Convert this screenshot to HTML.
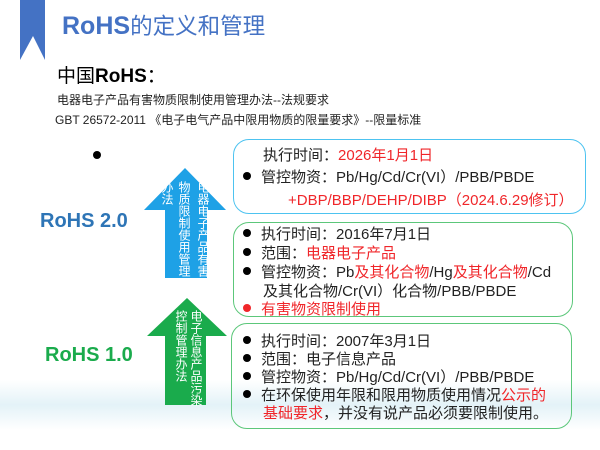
<!DOCTYPE html>
<html><head><meta charset="utf-8"><style>
body{margin:0;width:600px;height:450px;position:relative;overflow:hidden;background:#fff;font-family:"Liberation Sans","Noto Sans CJK SC",sans-serif;}
.a{position:absolute;white-space:nowrap;}
.box{position:absolute;border:1.5px solid;border-radius:16px;box-sizing:border-box;}
.t{font-size:15px;color:#222;position:absolute;white-space:nowrap;}
.r{color:#f0262a;}
.d{display:inline-block;width:8px;height:8px;border-radius:50%;background:#000;margin-right:10px;vertical-align:2px;}
.v{position:absolute;writing-mode:vertical-rl;color:#fff;font-size:12px;line-height:13px;letter-spacing:0;font-family:"Noto Sans CJK SC",sans-serif;}
</style></head><body>
<div class="a" style="left:0;top:380px;width:600px;height:50px;background:linear-gradient(180deg,rgba(255,255,255,0),rgba(200,230,240,.5),rgba(255,255,255,0));"></div>
<svg class="a" style="left:0;top:0" width="600" height="450">
<polygon points="20,0 45,0 45,60 33,36 20,60" fill="#4472c4"/>
<polygon points="185,168 226,210 207,210 207,278 165,278 165,210 144,210" fill="#1ea1e6"/>
<polygon points="187,298 227,336 206,336 206,405 165,405 165,336 147,336" fill="#1aab4c"/>
</svg>
<div class="a" style="left:62px;top:9px;font-size:25px;font-weight:bold;color:#4472c4;">RoHS<span style="font-weight:normal;font-size:22.5px">的定义和管理</span></div>
<div class="a" style="left:57px;top:61px;font-size:19px;color:#000;">中国<b>RoHS</b>：</div>
<div class="a" style="left:57px;top:91px;font-size:12px;color:#222;">电器电子产品有害物质限制使用管理办法--法规要求</div>
<div class="a" style="left:55px;top:111px;font-size:12px;color:#222;">GBT 26572-2011 《电子电气产品中限用物质的限量要求》--限量标准</div>
<div class="a" style="left:93px;top:151px;width:8px;height:8px;border-radius:50%;background:#000"></div>
<div class="a" style="left:40px;top:210px;font-size:20px;font-weight:bold;color:#2e75b6;">RoHS 2.0</div>
<div class="a" style="left:45px;top:344px;font-size:20px;font-weight:bold;color:#1aab4c;">RoHS 1.0</div>
<div class="v" style="left:197px;top:181px;">电器电子产品有害</div>
<div class="v" style="left:178px;top:181px;">物质限制使用管理</div>
<div class="v" style="left:161px;top:181px;">办法</div>
<div class="v" style="left:190px;top:310px;">电子信息产品污染</div>
<div class="v" style="left:175px;top:310px;">控制管理办法</div>
<div class="box" style="left:233px;top:139px;width:353px;height:75px;border-color:#4dc3f0;"></div>
<div class="t" style="left:263px;top:144px;">执行时间：<span class="r">2026年1月1日</span></div>
<div class="t" style="left:243px;top:166px;"><span class="d"></span>管控物资：Pb/Hg/Cd/Cr(VI）/PBB/PBDE</div>
<div class="t" style="left:288px;top:189px;"><span class="r">+DBP/BBP/DEHP/DIBP（2024.6.29修订）</span></div>
<div class="box" style="left:233px;top:222px;width:340px;height:95px;border-color:#5cc77a;"></div>
<div class="t" style="left:243px;top:223px;"><span class="d"></span>执行时间：2016年7月1日</div>
<div class="t" style="left:243px;top:242px;"><span class="d"></span>范围：<span class="r">电器电子产品</span></div>
<div class="t" style="left:243px;top:261px;"><span class="d"></span>管控物资：Pb<span class="r">及其化合物</span>/Hg<span class="r">及其化合物</span>/Cd</div>
<div class="t" style="left:263px;top:280px;">及其化合物/Cr(VI）化合物/PBB/PBDE</div>
<div class="t" style="left:243px;top:298px;"><span class="d" style="background:#f0262a"></span><span class="r">有害物资限制使用</span></div>
<div class="box" style="left:231px;top:323px;width:341px;height:106px;border-color:#5cc77a;"></div>
<div class="t" style="left:243px;top:330px;"><span class="d"></span>执行时间：2007年3月1日</div>
<div class="t" style="left:243px;top:348px;"><span class="d"></span>范围：电子信息产品</div>
<div class="t" style="left:243px;top:366px;"><span class="d"></span>管控物资：Pb/Hg/Cd/Cr(VI）/PBB/PBDE</div>
<div class="t" style="left:243px;top:384px;"><span class="d"></span>在环保使用年限和限用物质使用情况<span class="r">公示的</span></div>
<div class="t" style="left:263px;top:402px;"><span class="r">基础要求</span>，并没有说产品必须要限制使用。</div>
</body></html>
